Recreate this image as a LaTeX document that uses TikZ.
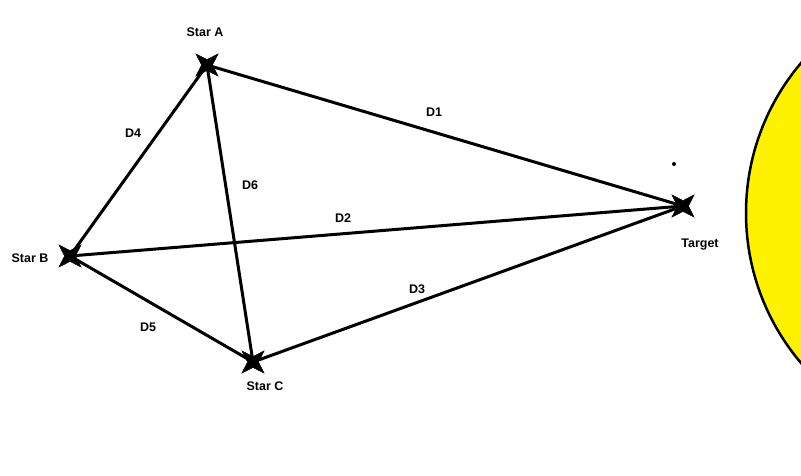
\documentclass[tikz,border=0pt]{standalone}
\usepackage{fontspec}
\setmainfont{Liberation Sans}
\usetikzlibrary{shapes.geometric}

\begin{document}
\begin{tikzpicture}[x=1pt,y=-1pt,
        every node/.style={font=\fontsize{12.5}{14}\selectfont\bfseries},
        starmark/.style={star,star points=4,star point ratio=0.35,minimum size=11pt,
                         inner sep=0pt,fill=black,draw=black},
        edge/.style={line width=3pt}]
    \useasboundingbox (0,0) rectangle (801,475);
    % the sun
    \begin{scope}
        \clip (0,0) rectangle (801,475);
        \draw[line width=2.5pt,fill=yellow] (978,213) circle (232);
    \end{scope}

    \node[starmark] (a) at (207,65)  {};
    \node[starmark] (b) at (70,256)  {};
    \node[starmark] (c) at (253,362) {};
    \node[starmark] (t) at (683,206) {};

    \draw[edge] (a.center) -- (t.center);
    \draw[edge] (b.center) -- (t.center);
    \draw[edge] (c.center) -- (t.center);
    \draw[edge] (a.center) -- (b.center);
    \draw[edge] (b.center) -- (c.center);
    \draw[edge] (a.center) -- (c.center);

    \node (la) at (205,32)  {Star A};
    \node (lb) at (30,258)  {Star B};
    \node (lc) at (265,386) {Star C};
    \node (lt) at (700,245) {Target};
    \node (d1) at (434,112) {D1};
    \node (d2) at (343,218) {D2};
    \node (d3) at (417,289) {D3};
    \node (d4) at (133,133) {D4};
    \node (d5) at (148,327) {D5};
    \node (d6) at (250,185) {D6};
    \fill (674,164) circle (2);
\end{tikzpicture}
\end{document}
